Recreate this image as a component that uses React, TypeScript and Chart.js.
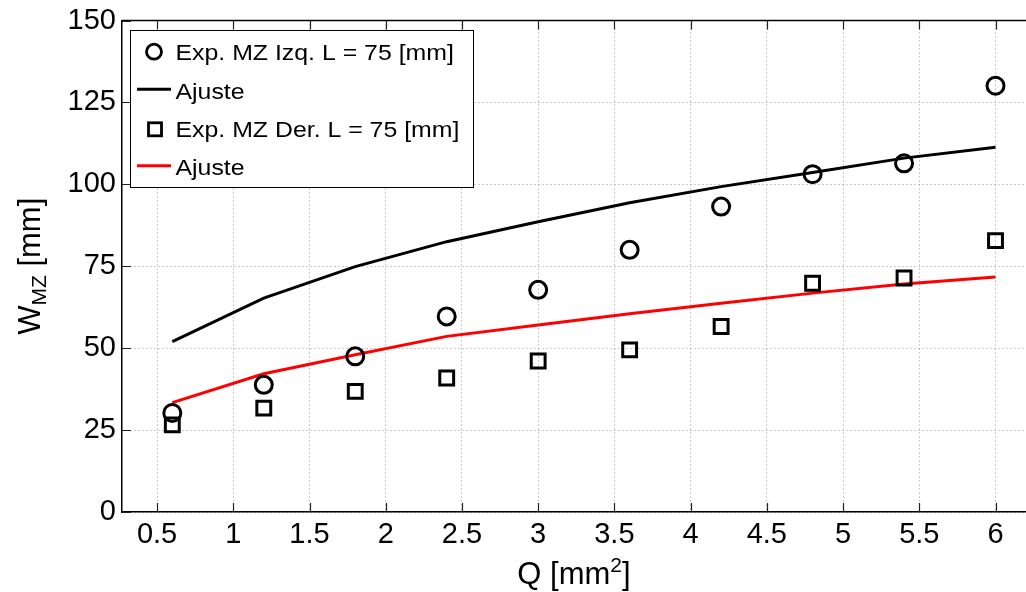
import React, { useEffect, useRef } from "react";
import { Chart, registerables } from "chart.js";

Chart.register(...registerables);

const qValues = [0.6, 1.2, 1.8, 2.4, 3.0, 3.6, 4.2, 4.8, 5.4, 6.0];
const izqExp = [30.2, 38.8, 47.5, 59.7, 67.8, 80.0, 93.2, 103.1, 106.4, 130.1];
const izqFit = [52.0, 65.3, 74.9, 82.5, 88.6, 94.4, 99.3, 103.6, 108.0, 111.3];
const derExp = [26.6, 31.7, 36.8, 40.9, 46.1, 49.5, 56.6, 69.8, 71.4, 82.8];
const derFit = [33.4, 42.2, 48.0, 53.6, 57.1, 60.5, 63.7, 66.8, 69.6, 71.7];

const xTicks = [0.5, 1, 1.5, 2, 2.5, 3, 3.5, 4, 4.5, 5, 5.5, 6];
const yTicks = [0, 25, 50, 75, 100, 125, 150];

const legendLabels = [
  "Exp. MZ Izq. L = 75 [mm]",
  "Ajuste",
  "Exp. MZ Der. L = 75 [mm]",
  "Ajuste",
];

const FONT = "'Liberation Sans', Arial, Helvetica, sans-serif";

const toPts = (ys: number[]) => qValues.map((x, i) => ({ x, y: ys[i] }));

const decorPlugin = {
  id: "decor",
  afterDraw(chart: any) {
    const { ctx, chartArea } = chart;
    const { left, right, top, bottom } = chartArea;
    const xs = chart.scales.x;
    const ys = chart.scales.y;
    ctx.save();
    // top border
    ctx.strokeStyle = "#000";
    ctx.lineWidth = 1.5;
    ctx.beginPath();
    ctx.moveTo(left, top);
    ctx.lineTo(right, top);
    ctx.stroke();
    // inward ticks
    ctx.lineWidth = 1.2;
    ctx.strokeStyle = "#222";
    ctx.beginPath();
    xTicks.forEach((v) => {
      const px = Math.round(xs.getPixelForValue(v)) + 0.5;
      ctx.moveTo(px, bottom);
      ctx.lineTo(px, bottom - 9);
      ctx.moveTo(px, top);
      ctx.lineTo(px, top + 9);
    });
    yTicks.forEach((v) => {
      const py = Math.round(ys.getPixelForValue(v)) + 0.5;
      ctx.moveTo(left, py);
      ctx.lineTo(left + 9, py);
    });
    ctx.stroke();

    // legend
    const bx = 130.5, by = 30.5, bw = 343, bh = 157;
    ctx.fillStyle = "#fff";
    ctx.fillRect(bx, by, bw, bh);
    ctx.strokeStyle = "#000";
    ctx.lineWidth = 1;
    ctx.strokeRect(bx, by, bw, bh);
    const rowsMid = [51.7, 89.3, 129.3, 165.7];
    const rowsBase = [60, 98.5, 137, 175];
    ctx.fillStyle = "#000";
    ctx.textBaseline = "alphabetic";
    ctx.textAlign = "left";
    legendLabels.forEach((label, i) => {
      ctx.save();
      ctx.translate(175.5, rowsBase[i]);
      ctx.scale(1.13, 1);
      ctx.font = `22px ${FONT}`;
      ctx.fillText(label, 0, 0);
      ctx.restore();
    });
    // markers
    ctx.lineWidth = 2.8;
    ctx.strokeStyle = "#000";
    ctx.beginPath();
    ctx.arc(154, rowsMid[0], 7.5, 0, Math.PI * 2);
    ctx.stroke();
    ctx.strokeRect(148.5, rowsMid[2] - 6.5, 13, 13);
    ctx.lineWidth = 3;
    ctx.beginPath();
    ctx.moveTo(137, rowsMid[1]);
    ctx.lineTo(171, rowsMid[1]);
    ctx.stroke();
    ctx.strokeStyle = "#ff0000";
    ctx.beginPath();
    ctx.moveTo(137, rowsMid[3]);
    ctx.lineTo(171, rowsMid[3]);
    ctx.stroke();

    // x title: Q [mm^2]
    ctx.fillStyle = "#000";
    const mainF = `31px ${FONT}`;
    const smallF = `21px ${FONT}`;
    ctx.font = mainF;
    const t1 = "Q [mm";
    const w1 = ctx.measureText(t1).width;
    ctx.font = smallF;
    const w2 = ctx.measureText("2").width;
    ctx.font = mainF;
    const w3 = ctx.measureText("]").width;
    const total = w1 + w2 + w3;
    const cx = (left + right) / 2;
    const sx = cx - total / 2;
    const base = 584;
    ctx.textAlign = "left";
    ctx.fillText(t1, sx, base);
    ctx.font = smallF;
    ctx.fillText("2", sx + w1, base - 12);
    ctx.font = mainF;
    ctx.fillText("]", sx + w1 + w2, base);

    // y title: W_MZ [mm]
    ctx.save();
    const cy = (top + bottom) / 2;
    ctx.translate(40, cy);
    ctx.rotate(-Math.PI / 2);
    ctx.font = mainF;
    const a = ctx.measureText("W").width;
    ctx.font = smallF;
    const b = ctx.measureText("MZ").width;
    ctx.font = mainF;
    const c = ctx.measureText(" [mm]").width;
    const tot = a + b + c;
    const x0 = -tot / 2;
    ctx.fillText("W", x0, 0);
    ctx.font = smallF;
    ctx.fillText("MZ", x0 + a, 6);
    ctx.font = mainF;
    ctx.fillText(" [mm]", x0 + a + b, 0);
    ctx.restore();

    ctx.restore();
  },
};

export default function App() {
  const ref = useRef<HTMLCanvasElement>(null);
  useEffect(() => {
    if (!ref.current) return;
    const chart = new Chart(ref.current, {
      type: "scatter",
      data: {
        datasets: [
          {
            label: legendLabels[0],
            data: toPts(izqExp),
            pointStyle: "circle",
            pointRadius: 8.5,
            borderWidth: 3,
            borderColor: "#000",
            backgroundColor: "rgba(0,0,0,0)",
            showLine: false,
          },
          {
            label: legendLabels[1],
            data: toPts(izqFit),
            showLine: true,
            pointRadius: 0,
            borderWidth: 3,
            borderColor: "#000",
            backgroundColor: "#000",
          },
          {
            label: legendLabels[2],
            data: toPts(derExp),
            pointStyle: "rect",
            pointRadius: 9.8,
            borderWidth: 3,
            borderColor: "#000",
            backgroundColor: "rgba(0,0,0,0)",
            showLine: false,
          },
          {
            label: legendLabels[3],
            data: toPts(derFit),
            showLine: true,
            pointRadius: 0,
            borderWidth: 3,
            borderColor: "#ff0000",
            backgroundColor: "#ff0000",
          },
        ],
      },
      options: {
        animation: false,
        responsive: false,
        devicePixelRatio: 1,
        layout: { autoPadding: false, padding: { top: 20.5, left: 0, right: 0, bottom: 0 } },
        plugins: {
          legend: { display: false },
          tooltip: { enabled: false },
        },
        scales: {
          x: {
            type: "linear",
            min: 0.27,
            max: 6.2,
            afterBuildTicks: (s: any) => {
              s.ticks = xTicks.map((v) => ({ value: v }));
            },
            afterFit: (s: any) => {
              s.height = 80;
              s.paddingLeft = 0;
              s.paddingRight = 0;
            },
            ticks: {
              padding: 6,
              color: "#000",
              font: { family: FONT, size: 29 },
              maxRotation: 0,
              autoSkip: false,
              callback: (v: any) => String(v),
            },
            grid: {
              drawTicks: false,
              color: "rgba(140,140,140,0.9)",
              lineWidth: 1,
            },
            border: { display: true, color: "#000", width: 1.5, dash: [1, 3] },
          },
          y: {
            type: "linear",
            min: 0,
            max: 150,
            afterBuildTicks: (s: any) => {
              s.ticks = yTicks.map((v) => ({ value: v }));
            },
            afterFit: (s: any) => {
              s.width = 122;
              s.paddingTop = 0;
              s.paddingBottom = 0;
            },
            ticks: {
              padding: 6,
              color: "#000",
              font: { family: FONT, size: 29 },
              autoSkip: false,
              callback: (v: any) => String(v),
            },
            grid: {
              drawTicks: false,
              color: "rgba(140,140,140,0.9)",
              lineWidth: 1,
            },
            border: { display: true, color: "#000", width: 1.5, dash: [1, 3] },
          },
        },
      },
      plugins: [decorPlugin],
    } as any);
    return () => chart.destroy();
  }, []);
  return (
    <div
      style={{
        position: "absolute",
        left: 0,
        top: 0,
        width: 1026,
        height: 592,
        background: "#fff",
        overflow: "hidden",
      }}
    >
      <canvas ref={ref} width={1026} height={592} style={{ display: "block" }} />
    </div>
  );
}
